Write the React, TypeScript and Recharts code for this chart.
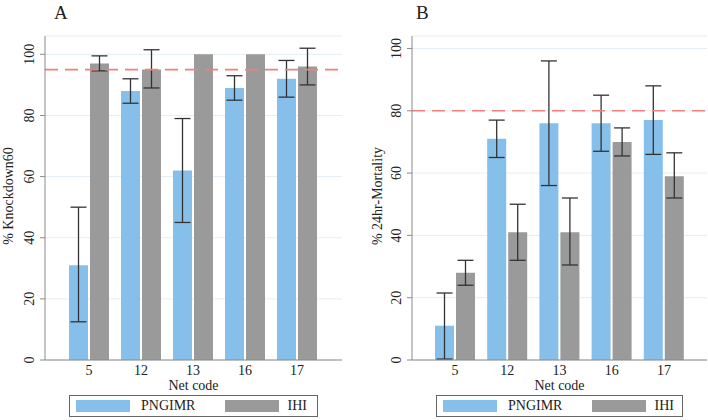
import React from 'react'
import { BarChart, Bar, XAxis, YAxis, CartesianGrid, ReferenceLine, ErrorBar } from 'recharts'

const netCodes = ['5', '12', '13', '16', '17']

// Panel A: % knockdown at 60 min
const knockPng = [31, 88, 62, 89, 92]
const knockPngLow = [12.5, 84, 45, 85, 86]
const knockPngHigh = [50, 92, 79, 93, 98]
const knockIhi = [97, 95, 100, 100, 96]
const knockIhiLow: (number | null)[] = [94.6, 89, null, null, 90]
const knockIhiHigh: (number | null)[] = [99.5, 101.5, null, null, 102]

// Panel B: % 24hr mortality
const mortPng = [11, 71, 76, 76, 77]
const mortPngLow = [0.3, 65, 56, 67, 66]
const mortPngHigh = [21.5, 77, 96, 85, 88]
const mortIhi = [28, 41, 41, 70, 59]
const mortIhiLow = [24, 32, 30.5, 65.5, 52]
const mortIhiHigh = [32, 50, 52, 74.5, 66.5]

const yTicks = [0, 20, 40, 60, 80, 100]

const BLUE = '#86c0ea'
const GRAY = '#9a9a9a'
const AXIS = '#8a8a8a'
const TEXT = '#222'
const FONT = '"Liberation Serif", "Times New Roman", Times, serif'

const err = (v: number, lo: number | null, hi: number | null) =>
  lo == null || hi == null ? null : [v - lo, hi - v]

const buildRows = (
  p: number[], pl: (number | null)[], ph: (number | null)[],
  g: number[], gl: (number | null)[], gh: (number | null)[]
) =>
  netCodes.map((code, i) => ({
    code,
    png: p[i],
    pngErr: err(p[i], pl[i], ph[i]),
    ihi: g[i],
    ihiErr: err(g[i], gl[i], gh[i]),
  }))

const dataA = buildRows(knockPng, knockPngLow, knockPngHigh, knockIhi, knockIhiLow, knockIhiHigh)
const dataB = buildRows(mortPng, mortPngLow, mortPngHigh, mortIhi, mortIhiLow, mortIhiHigh)

const YTick = (props: any) => {
  const { x, y, payload } = props
  return (
    <text x={x} y={y} transform={`rotate(-90 ${x} ${y})`} textAnchor="middle"
      fontSize={14} fill={TEXT} style={{ fontFamily: FONT }}>
      {payload.value}
    </text>
  )
}

function Panel(props: {
  data: any[]
  title: string
  yLabel: string
  refY: number
  yMax: number
  axisWidth: number
  padL: number
  padR: number
  marginRight: number
  labelX: number
  titleX: number
  legendLeft: number
  legendWidth: number
}) {
  const { data, title, yLabel, refY, yMax, axisWidth, padL, padR, marginRight, labelX, titleX, legendLeft, legendWidth } = props
  return (
    <div style={{ position: 'relative', width: 354, height: 420, fontFamily: FONT }}>
      <div style={{ position: 'absolute', left: titleX, top: 3, fontSize: 19, lineHeight: '19px', color: TEXT, zIndex: 1 }}>
        {title}
      </div>
      <BarChart
        width={354}
        height={420}
        data={data}
        margin={{ top: 36, right: marginRight, left: 0, bottom: 30 }}
        barSize={19}
        barGap={2}
        style={{ position: 'absolute', left: 0, top: 0, fontFamily: FONT }}
      >
        <CartesianGrid vertical={false} stroke="#e4eef4" />
        <XAxis
          dataKey="code"
          height={30}
          padding={{ left: padL, right: padR }}
          tickLine={false}
          tickSize={0}
          tickMargin={5}
          stroke={AXIS}
          tick={{ fontSize: 14, fill: TEXT, style: { fontFamily: FONT } }}
          label={(p: any) => {
            const vb = p.viewBox
            return (
              <text x={vb.x + vb.width / 2} y={vb.y + 30} textAnchor="middle" fontSize={14}
                fill={TEXT} style={{ fontFamily: FONT }}>
                Net code
              </text>
            )
          }}
        />
        <YAxis
          width={axisWidth}
          domain={[0, yMax]}
          ticks={yTicks}
          allowDataOverflow
          tickSize={5}
          tickMargin={6}
          stroke={AXIS}
          tick={<YTick />}
          label={(p: any) => {
            const vb = p.viewBox
            const cx = labelX
            const cy = vb.y + vb.height / 2 - 2
            return (
              <text x={cx} y={cy} transform={`rotate(-90 ${cx} ${cy})`} textAnchor="middle"
                fontSize={14} fill={TEXT} style={{ fontFamily: FONT }}>
                {yLabel}
              </text>
            )
          }}
        />
        <Bar dataKey="png" fill={BLUE} isAnimationActive={false}>
          <ErrorBar dataKey="pngErr" width={8} stroke="#333" strokeWidth={1.3} />
        </Bar>
        <Bar dataKey="ihi" fill={GRAY} isAnimationActive={false}>
          <ErrorBar dataKey="ihiErr" width={8} stroke="#333" strokeWidth={1.3} />
        </Bar>
        <ReferenceLine y={refY} stroke="#f08080" strokeWidth={1.6} strokeDasharray="13 7" />
      </BarChart>
      <div
        style={{
          position: 'absolute', left: legendLeft, top: 395, width: legendWidth, height: 22,
          border: '1px solid #666', boxSizing: 'border-box', display: 'flex', alignItems: 'center',
          fontSize: 14, color: TEXT, background: '#fff',
        }}
      >
        <div style={{ width: 54, height: 12, background: BLUE, marginLeft: 6 }} />
        <div style={{ marginLeft: 11 }}>PNGIMR</div>
        <div style={{ width: 54, height: 12, background: GRAY, marginLeft: 30 }} />
        <div style={{ marginLeft: 8 }}>IHI</div>
      </div>
    </div>
  )
}

export default function App() {
  return (
    <div style={{ position: 'absolute', left: 0, top: 0, width: 708, height: 420, background: '#fff', display: 'flex' }}>
      <Panel data={dataA} title="A" yLabel="% Knockdown60" refY={95} yMax={106} axisWidth={45}
        padL={18} padR={19} marginRight={12} labelX={13} titleX={54} legendLeft={69} legendWidth={249} />
      <Panel data={dataB} title="B" yLabel="% 24hr-Mortality" refY={80} yMax={104} axisWidth={58}
        padL={17} padR={17} marginRight={1} labelX={28} titleX={62} legendLeft={82} legendWidth={247} />
    </div>
  )
}
